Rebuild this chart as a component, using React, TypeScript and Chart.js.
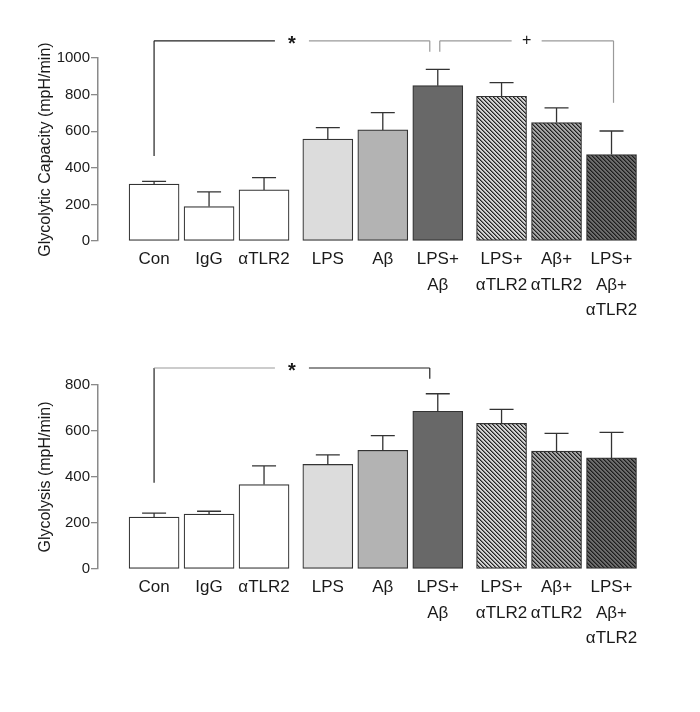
import React, { useEffect, useRef } from "react";
import { Chart, registerables } from "chart.js";

Chart.register(...registerables);

// ---------------- data ----------------
const CATEGORIES: string[][] = [
  ["Con"],
  ["IgG"],
  ["αTLR2"],
  ["LPS"],
  ["Aβ"],
  ["LPS+", "Aβ"],
  ["LPS+", "αTLR2"],
  ["Aβ+", "αTLR2"],
  ["LPS+", "Aβ+", "αTLR2"],
];
const GROUPS = [0, 0, 0, 1, 1, 1, 2, 2, 2];

const CAPACITY_MEAN = [311, 188, 279, 557, 607, 849, 791, 647, 472];
const CAPACITY_SEM = [15, 80, 67, 62, 94, 89, 74, 80, 129];
const CAPACITY_TICKS = [0, 200, 400, 600, 800, 1000];

const GLYCOLYSIS_MEAN = [226, 239, 367, 455, 516, 686, 633, 513, 483];
const GLYCOLYSIS_SEM = [17, 12, 81, 41, 64, 76, 61, 77, 111];
const GLYCOLYSIS_TICKS = [0, 200, 400, 600, 800];

// significance brackets: bar indices, bracket level and leg ends (data units)
const CAPACITY_BRACKETS = [
  { from: 0, to: 5, level: 1094, fromLeg: 465, toLeg: 1034, mark: "*" },
  { from: 5, to: 8, level: 1094, fromLeg: 1034, toLeg: 755, mark: "+" },
];
const GLYCOLYSIS_BRACKETS = [
  { from: 0, to: 5, level: 874, fromLeg: 375, toLeg: 827, mark: "*" },
];

// ---------------- styles ----------------
const FONT = "'Liberation Sans', Arial, Helvetica, sans-serif";
const TEXT = "#1a1a1a";
const AXIS_GREY = "#8a8a8a";
const GROUP_GAP = 0.16;

const CAPACITY_BRACKET_STYLE = [
  { dx1: 0, dx2: -8, left: "#222", right: "#9a9a9a", leg1: "#222", leg2: "#9a9a9a", gap: 17, font: "bold 20px", dy: 4 },
  { dx1: 2, dx2: 2, left: "#9a9a9a", right: "#9a9a9a", leg1: "#9a9a9a", leg2: "#9a9a9a", gap: 15, font: "16px", dy: 0 },
];
const GLYCOLYSIS_BRACKET_STYLE = [
  { dx1: 0, dx2: -8, left: "#9a9a9a", right: "#222", leg1: "#222", leg2: "#222", gap: 17, font: "bold 20px", dy: 4 },
];

function makeHatch(bg: string, mid: string, dark: string): CanvasPattern | string {
  const c = document.createElement("canvas");
  c.width = 4;
  c.height = 4;
  const g = c.getContext("2d");
  if (!g) return bg;
  g.fillStyle = bg;
  g.fillRect(0, 0, 4, 4);
  for (let y = 0; y < 4; y++) {
    for (let x = 0; x < 4; x++) {
      const d = (((x - y) % 4) + 4) % 4;
      if (d === 0) {
        g.fillStyle = dark;
        g.fillRect(x, y, 1, 1);
      } else if (d === 1) {
        g.fillStyle = mid;
        g.fillRect(x, y, 1, 1);
      }
    }
  }
  return g.createPattern(c, "repeat") || bg;
}

function barFills() {
  return [
    "#ffffff",
    "#ffffff",
    "#ffffff",
    "#dcdcdc",
    "#b3b3b3",
    "#686868",
    makeHatch("#d4d4d4", "#7a7a7a", "#242424"),
    makeHatch("#a6a6a6", "#626262", "#202020"),
    makeHatch("#6c6c6c", "#444444", "#1c1c1c"),
  ];
}

const positions = CATEGORIES.map((_, i) => i + GROUPS[i] * GROUP_GAP);

const errorBarPlugin = {
  id: "errorBars",
  afterDatasetsDraw(chart: any, _args: any, opts: any) {
    const sems: number[] = opts.sems || [];
    const ctx = chart.ctx;
    const xs = chart.scales.x;
    const ys = chart.scales.y;
    const data = chart.data.datasets[0].data as { x: number; y: number }[];
    ctx.save();
    ctx.strokeStyle = "#333";
    ctx.lineWidth = 1.3;
    data.forEach((d, i) => {
      const x = xs.getPixelForValue(d.x);
      const y0 = ys.getPixelForValue(d.y);
      const y1 = ys.getPixelForValue(d.y + sems[i]);
      ctx.beginPath();
      ctx.moveTo(x, y0);
      ctx.lineTo(x, y1);
      ctx.moveTo(x - 12, y1);
      ctx.lineTo(x + 12, y1);
      ctx.stroke();
    });
    ctx.restore();
  },
};

const bracketPlugin = {
  id: "brackets",
  afterDraw(chart: any, _args: any, opts: any) {
    const items = opts.items || [];
    const styles = opts.styles || [];
    const ctx = chart.ctx;
    const xs = chart.scales.x;
    const ys = chart.scales.y;
    ctx.save();
    ctx.lineWidth = 1.2;
    items.forEach((b: any, k: number) => {
      const s = styles[k];
      const x1 = xs.getPixelForValue(positions[b.from]) + s.dx1;
      const x2 = xs.getPixelForValue(positions[b.to]) + s.dx2;
      const yl = ys.getPixelForValue(b.level);
      const y1 = ys.getPixelForValue(b.fromLeg);
      const y2 = ys.getPixelForValue(b.toLeg);
      const mid = (x1 + x2) / 2;
      ctx.strokeStyle = s.leg1;
      ctx.beginPath();
      ctx.moveTo(x1, y1);
      ctx.lineTo(x1, yl);
      ctx.stroke();
      ctx.strokeStyle = s.left;
      ctx.beginPath();
      ctx.moveTo(x1, yl);
      ctx.lineTo(mid - s.gap, yl);
      ctx.stroke();
      ctx.strokeStyle = s.right;
      ctx.beginPath();
      ctx.moveTo(mid + s.gap, yl);
      ctx.lineTo(x2, yl);
      ctx.stroke();
      ctx.strokeStyle = s.leg2;
      ctx.beginPath();
      ctx.moveTo(x2, yl);
      ctx.lineTo(x2, y2);
      ctx.stroke();
      ctx.fillStyle = TEXT;
      ctx.font = `${s.font} ${FONT}`;
      ctx.textAlign = "center";
      ctx.textBaseline = "middle";
      ctx.fillText(b.mark, mid, yl + s.dy);
    });
    ctx.restore();
  },
};

type PanelProps = {
  top: number;
  height: number;
  areaTop: number;
  areaBottom: number;
  means: number[];
  sems: number[];
  ticks: number[];
  title: string;
  brackets: any[];
  bracketStyles: any[];
};

function BarPanel(p: PanelProps) {
  const ref = useRef<HTMLCanvasElement>(null);
  useEffect(() => {
    const canvas = ref.current;
    if (!canvas) return;
    const fills = barFills();
    const chart = new Chart(canvas, {
      type: "bar",
      data: {
        datasets: [
          {
            data: p.means.map((m, i) => ({ x: positions[i], y: m })),
            backgroundColor: fills as any,
            borderColor: "#333333",
            borderWidth: 1.2,
            barThickness: 50,
            borderSkipped: false,
          },
        ],
      },
      options: {
        animation: false,
        responsive: false,
        devicePixelRatio: window.devicePixelRatio || 1,
        layout: { padding: { top: p.areaTop - p.top, left: 0, right: 50, bottom: 0 } },
        plugins: {
          legend: { display: false },
          tooltip: { enabled: false },
          errorBars: { sems: p.sems },
          brackets: { items: p.brackets, styles: p.bracketStyles },
        } as any,
        scales: {
          x: {
            type: "linear",
            offset: false,
            min: -1.02,
            max: positions[positions.length - 1] + 0.7,
            grid: { display: false, drawTicks: false, offset: false },
            border: { display: false },
            afterBuildTicks: (scale: any) => {
              scale.ticks = positions.map((v) => ({ value: v }));
            },
            afterFit: (scale: any) => {
              scale.height = p.height - (p.areaBottom - p.top);
              scale.paddingLeft = 0;
              scale.paddingRight = 0;
            },
            ticks: {
              autoSkip: false,
              maxRotation: 0,
              minRotation: 0,
              padding: 6,
              color: TEXT,
              font: { family: FONT, size: 17, lineHeight: 1.5 },
              callback: (_v: any, i: number) => CATEGORIES[i] as any,
            },
          },
          y: {
            type: "linear",
            min: 0,
            max: p.ticks[p.ticks.length - 1],
            afterBuildTicks: (scale: any) => {
              scale.ticks = p.ticks.map((v) => ({ value: v }));
            },
            afterFit: (scale: any) => {
              scale.width = 98;
            },
            grid: {
              display: true,
              drawOnChartArea: false,
              drawTicks: true,
              tickLength: 7,
              color: AXIS_GREY,
              lineWidth: 1.3,
            },
            border: { display: true, color: AXIS_GREY, width: 1.5 },
            ticks: {
              padding: 1,
              color: TEXT,
              font: { family: FONT, size: 15 },
              callback: (v: any) => String(v),
            },
            title: {
              display: true,
              text: p.title,
              color: TEXT,
              font: { family: FONT, size: 16 },
              padding: { top: 36, bottom: 0 },
            },
          },
        },
      },
      plugins: [errorBarPlugin, bracketPlugin],
    } as any);
    return () => chart.destroy();
  }, []);
  return (
    <canvas
      ref={ref}
      width={700}
      height={p.height}
      style={{ position: "absolute", left: 0, top: p.top, width: 700, height: p.height }}
    />
  );
}

export default function App() {
  return (
    <div style={{ position: "fixed", left: 0, top: 0, width: 700, height: 712, background: "#fff" }}>
      <BarPanel
        top={0}
        height={340}
        areaTop={58}
        areaBottom={241}
        means={CAPACITY_MEAN}
        sems={CAPACITY_SEM}
        ticks={CAPACITY_TICKS}
        title="Glycolytic Capacity (mpH/min)"
        brackets={CAPACITY_BRACKETS}
        bracketStyles={CAPACITY_BRACKET_STYLE}
      />
      <BarPanel
        top={340}
        height={372}
        areaTop={385}
        areaBottom={569}
        means={GLYCOLYSIS_MEAN}
        sems={GLYCOLYSIS_SEM}
        ticks={GLYCOLYSIS_TICKS}
        title="Glycolysis (mpH/min)"
        brackets={GLYCOLYSIS_BRACKETS}
        bracketStyles={GLYCOLYSIS_BRACKET_STYLE}
      />
    </div>
  );
}
